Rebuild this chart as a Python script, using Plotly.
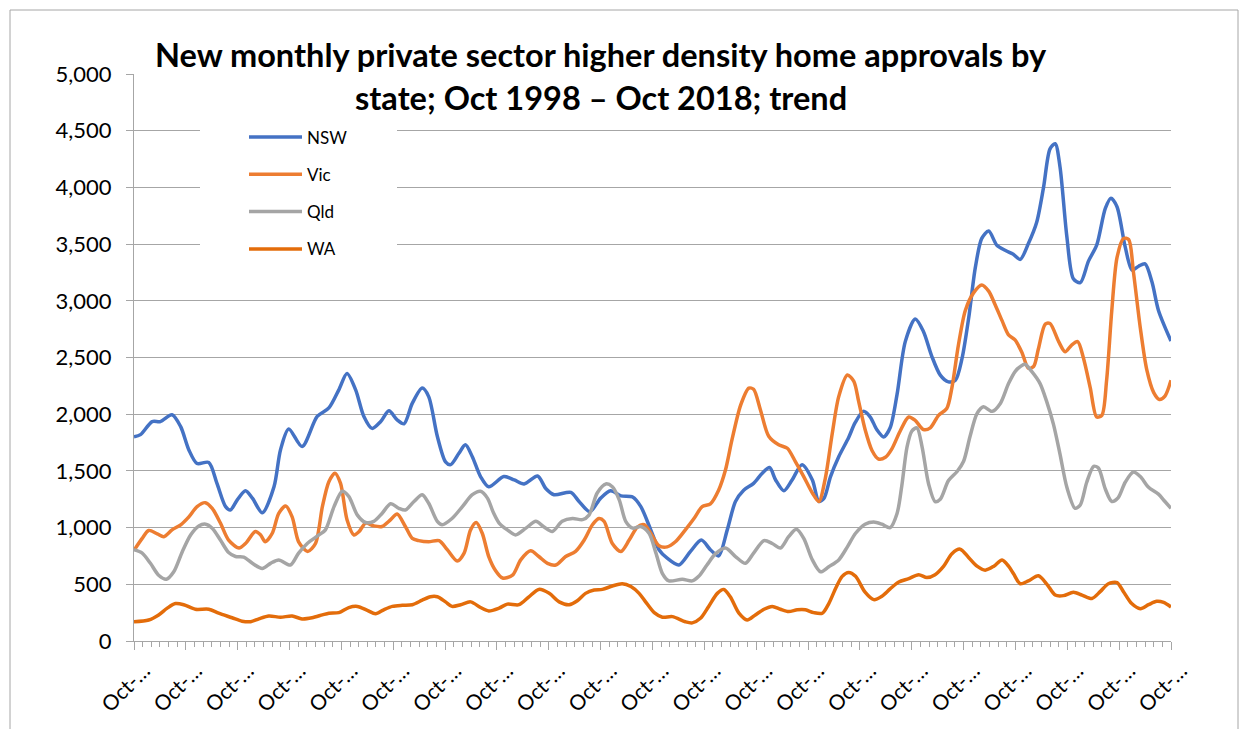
import plotly.graph_objects as go

# ---- data (month index from Oct-1998 = 0) ----
nsw_m = [0, 1.5, 4.2, 6.1, 8.8, 10.8, 12.7, 14.6, 17.3, 19.2, 21.2, 22.3, 23.9, 25.8, 27.4, 29.7, 32.4, 33.9, 35.8, 38.9,
         42.4, 45.1, 47.4, 49.3, 51.3, 53.2, 55.1, 57.1, 59, 60.9, 62.5, 64.4, 66.7, 68.2, 70.2, 72.1, 73.3, 75.2, 76.7, 78.3,
         80.2, 82.1, 85.6, 88, 90.3, 93.4, 95.3, 97.2, 101.1, 103, 105.5, 108, 110.3, 112.7, 115.4, 117.3, 119.6, 121.5, 123.4,
         126.1, 128.8, 131.3, 133.4, 135.3, 137.3, 139.2, 141.1, 143.4, 145.4, 147.1, 148.5, 150.4, 152.3, 154.6, 157, 158.5,
         159.7, 161.2, 163.1, 165.4, 166.9, 168.8, 170.4, 171.9, 173.5, 175, 176.6, 178.5, 180.8, 182.7, 184.6, 186.6, 188.5,
         190.1, 191.6, 193.2, 194.7, 196.2, 197.8, 199.7, 201.6, 203.5, 205.1, 207, 208.9, 210.5, 212, 213.2, 214.3, 215.9,
         217.4, 219, 220.9, 222.8, 224.8, 226.1, 227.5, 229.4, 231, 232.5, 234, 235.6, 237.1, 240]
nsw_v = [1800, 1820, 1935, 1935, 1995, 1890, 1685, 1565, 1575, 1390, 1185, 1155, 1245, 1325, 1260, 1130, 1360, 1685, 1870, 1715,
         1980, 2055, 2215, 2360, 2215, 1980, 1875, 1935, 2030, 1950, 1915, 2095, 2230, 2155, 1805, 1580, 1555, 1655, 1730, 1625,
         1450, 1360, 1450, 1420, 1385, 1455, 1345, 1290, 1310, 1230, 1140, 1260, 1325, 1280, 1270, 1185, 980, 805, 730,
         670, 790, 890, 805, 750, 980, 1230, 1330, 1390, 1480, 1530, 1420, 1325, 1420, 1555, 1420, 1230,
         1260, 1450, 1625, 1795, 1925, 2025, 1975, 1865, 1800, 1880, 2175, 2640, 2840, 2730, 2515, 2345, 2285,
         2300, 2485, 2855, 3290, 3550, 3615, 3490, 3445, 3410, 3365, 3505, 3690, 4000, 4340, 4385, 4185, 3565,
         3195, 3160, 3350, 3490, 3815, 3905, 3830, 3475, 3270, 3305, 3325, 3165, 2915, 2645]

vic_m = [0, 1.9, 3.4, 5.4, 6.9, 8.8, 10.8, 12.7, 14.6, 16.5, 18.1, 20, 21.9, 24.3, 25.8, 28.1, 29.3, 30.4, 32, 33.5, 35.1,
         36.6, 38.1, 40.2, 42, 43.6, 45.1, 46.5, 47.8, 49.3, 50.9, 52.1, 53.6, 55.5, 57.4, 59.4, 60.9, 62.8, 64.4, 65.9, 68.2,
         70.6, 72.5, 74.8, 76.4, 77.9, 79.2, 80.6, 82.1, 83.7, 85.3, 87.6, 89.5, 91.8, 93.7, 95.7, 97.6, 99.9, 102.2, 104.2,
         106.1, 107.6, 108.8, 110.7, 112.7, 114.6, 116.5, 118.1, 119.6, 121.5, 123.4, 125.3, 127.6, 129.6, 131.5, 133.4, 135.3,
         136.9, 138.4, 140.4, 142.3, 143.4, 145, 146.9, 149.2, 151.2, 153.1, 155, 157, 158.5, 160, 161.6, 163.1, 165.1, 166.6,
         167.7, 169.2, 170.8, 172.3, 173.9, 175.4, 177.3, 179.3, 180.8, 182.7, 184.3, 186.2, 188.1, 189.3, 190.8, 192.4, 194.3,
         196.2, 197.8, 199.3, 200.9, 202.4, 203.9, 205.5, 207, 208.2, 209.3, 210.9, 212, 214, 215.5, 217, 218.4, 219.7, 221.3,
         222.8, 224, 225.1, 226.3, 227.5, 229, 230.2, 231.3, 232.9, 234.4, 236, 237.3, 238.6, 240]
vic_v = [800, 905, 975, 945, 920, 980, 1025, 1095, 1185, 1220, 1170, 1040, 890, 820, 860, 965, 935, 875, 950, 1125, 1190,
         1095, 875, 790, 860, 1185, 1405, 1480, 1390, 1070, 935, 965, 1040, 1015, 1010, 1070, 1120, 1010, 905, 885, 875,
         885, 805, 705, 775, 980, 1045, 950, 745, 620, 555, 580, 715, 795, 745, 685, 670, 745, 790, 890,
         1025, 1080, 1055, 860, 790, 890, 1005, 1025, 950, 840, 830, 875, 980, 1080, 1185, 1210, 1330,
         1510, 1775, 2080, 2230, 2220, 2035, 1805, 1730, 1700, 1580, 1450, 1305, 1230, 1435, 1830, 2155, 2345, 2290,
         2115, 1865, 1680, 1605, 1620, 1695, 1850, 1975, 1945, 1865, 1880, 1990, 2050, 2235, 2610, 2915, 3070,
         3140, 3085, 2965, 2825, 2700, 2655, 2545, 2405, 2420, 2575, 2795, 2800, 2640, 2550, 2610, 2640, 2500, 2235,
         1975, 1990, 2300, 2915, 3380, 3550, 3540, 3255, 2760, 2390, 2190, 2130, 2160, 2300]

qld_m = [0, 1.9, 3.8, 5.7, 7.5, 9.2, 11.2, 13.1, 15, 16.6, 18.1, 20, 21.9, 23.5, 25.4, 27.4, 29.7, 31.6, 33.5, 36.2, 38.1,
         40.1, 42.8, 44.3, 46.3, 48.2, 49.7, 51.7, 53.6, 55.5, 57.4, 59.4, 61.3, 62.8, 64.8, 66.7, 68.2, 70.2, 71.3, 73.6, 76,
         78.3, 80.2, 81.8, 83.2, 84.5, 86.4, 88.3, 90.7, 93, 94.9, 96.8, 99.1, 101.5, 103.8, 105.3, 107.2, 109.2, 110.7, 112.3,
         113.8, 115.4, 117.3, 119.2, 120.8, 122.3, 123.8, 126.9, 129.2, 130.7, 132.6, 134.6, 136.9, 139.2, 141.5, 143.4, 145.8,
         147.7, 149.6, 151.5, 153.3, 155, 157, 158.9, 160.8, 163.1, 165.1, 167, 169.2, 171.2, 173.1, 175, 176.6, 177.7, 178.9,
         180, 181.2, 182.4, 183.9, 185.4, 186.6, 188.5, 190.5, 192, 193.5, 195.1, 196.6, 198.6, 200.5, 202.4, 204, 205.1, 206.2,
         207.8, 209.7, 211.2, 212.8, 214.3, 215.9, 217.8, 219, 220.5, 222.1, 223.2, 224.8, 226.3, 227.8, 229.4, 231.3, 232.9,
         234.8, 237.1, 238.6, 240]
qld_v = [805, 775, 685, 580, 545, 610, 790, 935, 1015, 1030, 995, 890, 780, 745, 740, 685, 640, 685, 715, 670, 775,
         860, 935, 980, 1185, 1320, 1275, 1110, 1045, 1055, 1125, 1210, 1170, 1155, 1230, 1290, 1215, 1055, 1025, 1080, 1185,
         1290, 1320, 1260, 1130, 1040, 980, 935, 995, 1055, 1005, 965, 1055, 1080, 1070, 1110, 1305, 1385, 1360, 1245,
         1055, 995, 1010, 950, 775, 595, 530, 545, 530, 570, 670, 770, 820, 745, 685, 775, 885,
         860, 820, 920, 985, 905, 715, 610, 655, 715, 830, 950, 1030, 1050, 1030, 1000, 1125, 1370, 1710,
         1850, 1880, 1710, 1385, 1230, 1250, 1415, 1495, 1585, 1805, 2005, 2065, 2025, 2095, 2270, 2380, 2420, 2440,
         2375, 2270, 2115, 1910, 1650, 1355, 1170, 1200, 1400, 1540, 1525, 1340, 1230, 1265, 1400, 1490, 1450,
         1355, 1295, 1230, 1170]

wa_m = [0, 3.4, 5.7, 7.7, 9.6, 11.5, 14.2, 17.3, 19.6, 22.7, 25, 27, 28.9, 31.2, 33.9, 36.6, 38.9, 41.2, 43.6, 45.1, 47.4,
        49.7, 51.7, 54, 55.9, 57.8, 59.8, 62.1, 64.4, 66.7, 68.6, 70.2, 72.1, 73.6, 75.6, 77.9, 80.2, 82.1, 84.5, 86.4, 89.1,
        91.4, 93.7, 96.1, 98.4, 100.7, 102.6, 104.5, 106.5, 108.4, 110.7, 113, 115, 116.9, 118.4, 120.4, 122.3, 124.6, 127.6,
        129.2, 131.1, 133, 135, 136.5, 138, 140, 141.9, 143.8, 145.8, 147.7, 149.6, 151.5, 153.5, 155.4, 157.3, 159.3, 160.8,
        162.4, 163.9, 165.4, 167, 169.2, 171.2, 173.1, 175, 177, 179.3, 181.6, 183.5, 185.4, 187.4, 189.3, 191.2, 193.2, 195.1,
        197, 199, 200.9, 202.4, 203.6, 205.1, 207, 209.3, 211.3, 213.2, 215.1, 217.4, 219.4, 221.7, 223.6, 225.5, 227.5, 229,
        230.9, 232.9, 234.8, 236.7, 238.3, 240]
wa_v = [170, 185, 230, 290, 330, 320, 280, 280, 245, 205, 175, 170, 195, 220, 210, 220, 195, 205, 230, 245, 250,
        295, 305, 270, 240, 275, 305, 315, 320, 360, 390, 390, 345, 305, 320, 345, 295, 265, 290, 325, 320,
        390, 455, 420, 345, 320, 355, 420, 450, 455, 485, 505, 480, 420, 345, 250, 210, 215, 170,
        160, 200, 305, 420, 455, 390, 245, 185, 230, 280, 305, 280, 260, 275, 275, 250, 245, 330,
        465, 570, 605, 570, 430, 365, 395, 460, 520, 550, 585, 560, 585, 660, 770, 810, 735, 660,
        625, 660, 715, 660, 590, 505, 530, 575, 500, 405, 400, 430, 405, 375, 435, 505, 515, 435,
        330, 285, 320, 350, 340, 300]

series = [("NSW", nsw_m, nsw_v, "#4472C4"),
          ("Vic", vic_m, vic_v, "#ED7D31"),
          ("Qld", qld_m, qld_v, "#A5A5A5"),
          ("WA", wa_m, wa_v, "#E36C0A")]

tick_months = list(range(0, 241, 12))
tick_text = ["Oct-\u2026"] * len(tick_months)

title_line1 = "New monthly private sector higher density home approvals by"
title_line2 = "state; Oct 1998 \u2013 Oct 2018; trend"

FONT = "Lato, Carlito, Calibri, 'Liberation Sans', sans-serif"
GRID = "#A6A6A6"

fig = go.Figure()
for i, (name, m, v, col) in enumerate(series):
    fig.add_trace(go.Scatter(x=m, y=v, name=name, mode="lines", showlegend=False,
                             line=dict(color=col, width=3.5, shape="spline", smoothing=0.8)))

# page body has an 8px margin; the figure is laid out in window pixels minus that offset
OFF = 8
W, H = 1248 - OFF, 729 - OFF
L, R, T, B = 126, 77, 66, 88
pw, ph = W - L - R, H - T - B
def px(x): return (x - OFF - L) / pw
def py(y): return (H - B - (y - OFF)) / ph

annotations = [
    dict(text=f"<b>{title_line1}</b>", x=px(601), y=py(54), xref="paper", yref="paper",
         xanchor="center", yanchor="middle", showarrow=False,
         font=dict(size=32.5, family=FONT, color="#000000")),
    dict(text=f"<b>{title_line2}</b>", x=px(601), y=py(97), xref="paper", yref="paper",
         xanchor="center", yanchor="middle", showarrow=False,
         font=dict(size=32.5, family=FONT, color="#000000")),
]
shapes = [
    # white legend box (hides the gridlines behind it, as in the original)
    dict(type="rect", xref="paper", yref="paper", x0=px(200), x1=px(397), y0=py(265), y1=py(112),
         fillcolor="white", line=dict(width=0), layer="above"),
    # chart-area border
    dict(type="rect", xref="paper", yref="paper", x0=px(10), x1=px(1238), y0=py(745), y1=py(10),
         fillcolor="rgba(0,0,0,0)", line=dict(color="#A6A6A6", width=1), layer="above"),
]
# legend: long line samples with labels
for i, (name, m, v, col) in enumerate(series):
    yc = 137 + 37.3 * i
    shapes.append(dict(type="line", xref="paper", yref="paper", x0=px(249), x1=px(302), y0=py(yc), y1=py(yc),
                       line=dict(color=col, width=3.5), layer="above"))
    annotations.append(dict(text=name, x=px(305), y=py(yc), xref="paper", yref="paper",
                            xanchor="left", yanchor="middle", showarrow=False,
                            font=dict(size=17, family=FONT, color="#000000")))

fig.update_layout(
    width=W, height=H, autosize=False,
    margin=dict(l=L, r=R, t=T, b=B, pad=0),
    paper_bgcolor="white", plot_bgcolor="white",
    font=dict(family=FONT, color="#000000"),
    showlegend=False,
    xaxis=dict(range=[0, 240], showgrid=False, zeroline=False,
               showline=True, linecolor=GRID, linewidth=1.3,
               ticks="outside", ticklen=8, tickcolor=GRID, tickwidth=1.3,
               tickmode="array", tickvals=tick_months, ticktext=tick_text,
               tickangle=-45, ticklabelshift=10,
               tickfont=dict(size=21, family=FONT, color="#000000"),
               minor=dict(tick0=0, dtick=2, ticks="outside", ticklen=5, tickcolor=GRID,
                          tickwidth=1, showgrid=False)),
    yaxis=dict(range=[0, 5000], dtick=500, tick0=0, tickformat=",",
               showgrid=True, gridcolor=GRID, gridwidth=1.3, zeroline=False,
               showline=True, linecolor=GRID, linewidth=1.3,
               ticks="outside", ticklen=7, tickcolor=GRID, tickwidth=1.3,
               ticklabelstandoff=10,
               tickfont=dict(size=22, family=FONT, color="#000000")),
    annotations=annotations,
    shapes=shapes,
)

fig.write_html("out.html")
